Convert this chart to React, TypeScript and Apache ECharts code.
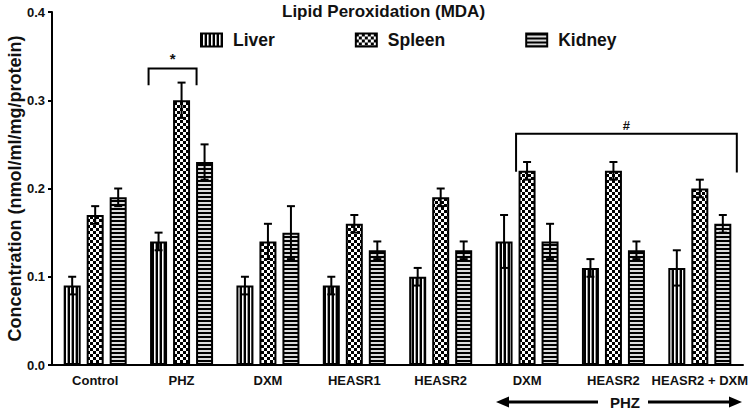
import React, { useEffect, useRef } from 'react';
import * as echarts from 'echarts';

const categories = ['Control', 'PHZ', 'DXM', 'HEASR1', 'HEASR2', 'DXM', 'HEASR2', 'HEASR2 + DXM'];
const seriesNames = ['Liver', 'Spleen', 'Kidney'];
const liver = [0.09, 0.14, 0.09, 0.09, 0.10, 0.14, 0.11, 0.11];
const liverErr = [0.01, 0.01, 0.01, 0.01, 0.01, 0.03, 0.01, 0.02];
const spleen = [0.17, 0.30, 0.14, 0.16, 0.19, 0.22, 0.22, 0.20];
const spleenErr = [0.01, 0.02, 0.02, 0.01, 0.01, 0.01, 0.01, 0.01];
const kidney = [0.19, 0.23, 0.15, 0.13, 0.13, 0.14, 0.13, 0.16];
const kidneyErr = [0.01, 0.02, 0.03, 0.01, 0.01, 0.02, 0.01, 0.01];

const titleText = 'Lipid Peroxidation (MDA)';
const yAxisName = 'Concentration (nmol/ml/mg/protein)';
const groupLabel = 'PHZ';

// significance brackets (data-space y values)
const bracketLabels = ['*', '#'];
const bracketFrom = [1, 5];
const bracketTo = [1, 7];
const bracketTop = [0.336, 0.262];
const bracketLegLeft = [0.317, 0.219];
const bracketLegRight = [0.317, 0.218];
// pixel offsets from category centre (style)
const bracketOffsets = [[-33, 15], [-11, 37]];

const BAR_W = 17;
const BAR_GAP = 6;
const FONT = 'Arial, "Liberation Sans", Helvetica, sans-serif';

function makePattern(kind: string) {
  const c = document.createElement('canvas');
  const ctx = c.getContext('2d')!;
  if (kind === 'v') {
    c.width = 4; c.height = 4;
    ctx.fillStyle = '#ffffff'; ctx.fillRect(0, 0, 4, 4);
    ctx.fillStyle = '#000000'; ctx.fillRect(0, 0, 2, 4);
    ctx.fillStyle = '#9a9a9a'; ctx.fillRect(3, 0, 1, 4);
  } else if (kind === 'c') {
    c.width = 6; c.height = 6;
    ctx.fillStyle = '#ffffff'; ctx.fillRect(0, 0, 6, 6);
    ctx.fillStyle = '#000000'; ctx.fillRect(0, 0, 3, 3); ctx.fillRect(3, 3, 3, 3);
  } else {
    c.width = 4; c.height = 4;
    ctx.fillStyle = '#dcdcdc'; ctx.fillRect(0, 0, 4, 4);
    ctx.fillStyle = '#000000'; ctx.fillRect(0, 0, 4, 2);
  }
  return { image: c, repeat: 'repeat', imageWidth: c.width, imageHeight: c.height } as any;
}

export default function App() {
  const ref = useRef<HTMLDivElement>(null);
  useEffect(() => {
    document.body.style.margin = '0';
    if (!ref.current) return;
    const chart = echarts.init(ref.current, null, { renderer: 'svg' });
    const patterns = [makePattern('v'), makePattern('c'), makePattern('h')];
    const values = [liver, spleen, kidney];
    const errs = [liverErr, spleenErr, kidneyErr];

    const errData: number[][] = [];
    values.forEach((arr, s) => arr.forEach((v, i) => errData.push([i, v, errs[s][i], s])));

    const bracketData = bracketLabels.map((_, k) => [bracketFrom[k], bracketTo[k], bracketTop[k], bracketLegLeft[k], bracketLegRight[k]]);

    const barSeries = seriesNames.map((name, s) => ({
      name,
      type: 'bar',
      data: values[s],
      barWidth: BAR_W,
      barGap: `${(BAR_GAP / BAR_W) * 100}%`,
      itemStyle: { color: patterns[s], borderColor: '#000', borderWidth: 2 },
      emphasis: { disabled: true },
      z: 2,
    }));

    const lineStyle = { stroke: '#000', lineWidth: 2 };

    chart.setOption({
      animation: false,
      title: {
        text: titleText,
        left: 282,
        top: 3,
        padding: 0,
        textStyle: { fontFamily: FONT, fontSize: 17, fontWeight: 'bold', color: '#111' },
      },
      legend: {
        data: seriesNames,
        left: 200,
        top: 31,
        padding: 0,
        itemWidth: 21,
        itemHeight: 13,
        itemGap: 80,
        icon: 'rect',
        textStyle: { fontFamily: FONT, fontSize: 17.5, fontWeight: 'bold', color: '#111', padding: [0, 0, 0, 6] },
        selectedMode: false,
      },
      grid: { left: 52, right: 8, top: 12, bottom: 46, containLabel: false, outerBoundsMode: 'none' },
      xAxis: {
        type: 'category',
        data: categories,
        axisLine: { lineStyle: { color: '#000', width: 2 } },
        axisTick: { alignWithLabel: true, length: 4, lineStyle: { color: '#000', width: 2 } },
        axisLabel: { fontFamily: FONT, fontSize: 13, fontWeight: 'bold', color: '#111', margin: 9, interval: 0 },
      },
      yAxis: {
        type: 'value',
        min: 0,
        max: 0.4,
        interval: 0.1,
        name: yAxisName,
        nameLocation: 'middle',
        nameGap: 28,
        nameMoveOverlap: false,
        nameTextStyle: { fontFamily: FONT, fontSize: 18, fontWeight: 'bold', color: '#111' },
        axisLine: { show: true, lineStyle: { color: '#000', width: 2 } },
        axisTick: { show: true, length: 4, lineStyle: { color: '#000', width: 2 } },
        axisLabel: {
          fontFamily: FONT, fontSize: 13, fontWeight: 'bold', color: '#111', margin: 7,
          formatter: (v: number) => v.toFixed(1),
        },
        splitLine: { show: false },
      },
      series: [
        ...barSeries,
        {
          type: 'custom',
          z: 5,
          silent: true,
          data: errData,
          encode: { x: 0, y: 1 },
          renderItem: (params: any, api: any) => {
            const cat = api.value(0);
            const mean = api.value(1);
            const err = api.value(2);
            const s = api.value(3);
            const off = (s - 1) * (BAR_W + BAR_GAP);
            const top = api.coord([cat, mean + err]);
            const bot = api.coord([cat, mean - err]);
            const x = top[0] + off;
            return {
              type: 'group',
              children: [
                { type: 'line', shape: { x1: x, y1: top[1], x2: x, y2: bot[1] }, style: lineStyle },
                { type: 'line', shape: { x1: x - 4, y1: top[1], x2: x + 4, y2: top[1] }, style: lineStyle },
                { type: 'line', shape: { x1: x - 4, y1: bot[1], x2: x + 4, y2: bot[1] }, style: lineStyle },
              ],
            };
          },
        },
        {
          type: 'custom',
          z: 6,
          silent: true,
          clip: false,
          data: bracketData,
          encode: { x: 0, y: 2 },
          renderItem: (params: any, api: any) => {
            const k = params.dataIndex;
            const a = api.coord([api.value(0), api.value(2)]);
            const b = api.coord([api.value(1), api.value(2)]);
            const legL = api.coord([api.value(0), api.value(3)]);
            const legR = api.coord([api.value(1), api.value(4)]);
            const x1 = a[0] + bracketOffsets[k][0];
            const x2 = b[0] + bracketOffsets[k][1];
            return {
              type: 'group',
              children: [
                {
                  type: 'polyline',
                  shape: { points: [[x1, legL[1]], [x1, a[1]], [x2, a[1]], [x2, legR[1]]] },
                  style: { stroke: '#000', lineWidth: 2, fill: 'none' },
                },
                {
                  type: 'text',
                  style: {
                    text: bracketLabels[k],
                    x: (x1 + x2) / 2,
                    y: a[1] - 2,
                    align: 'center',
                    verticalAlign: 'bottom',
                    fontFamily: FONT,
                    fontSize: k === 0 ? 15 : 13,
                    fontWeight: 'bold',
                    fill: '#111',
                  },
                },
              ],
            };
          },
        },
      ],
      graphic: [
        {
          type: 'text',
          x: 625,
          y: 402,
          style: { text: groupLabel, align: 'center', verticalAlign: 'middle', fontFamily: FONT, fontSize: 15, fontWeight: 'bold', fill: '#111' },
        },
        { type: 'line', shape: { x1: 506, y1: 402, x2: 598, y2: 402 }, style: { stroke: '#000', lineWidth: 3 } },
        { type: 'polygon', shape: { points: [[496, 402], [509, 396.5], [509, 407.5]] }, style: { fill: '#000' } },
        { type: 'line', shape: { x1: 648, y1: 402, x2: 732, y2: 402 }, style: { stroke: '#000', lineWidth: 3 } },
        { type: 'polygon', shape: { points: [[742, 402], [729, 396.5], [729, 407.5]] }, style: { fill: '#000' } },
      ],
    });
    return () => chart.dispose();
  }, []);
  return <div ref={ref} style={{ width: 751, height: 411 }} />;
}
